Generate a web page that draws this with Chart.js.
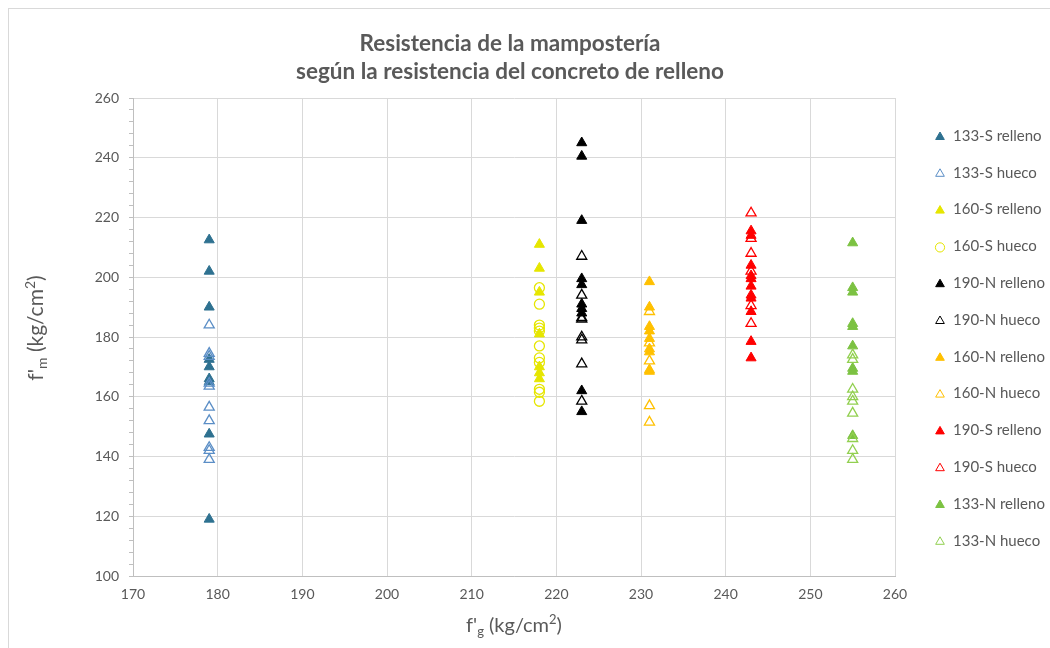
<!DOCTYPE html>
<html>
<head>
<meta charset="utf-8">
<script src="https://cdn.jsdelivr.net/npm/chart.js@4/dist/chart.umd.min.js"></script>
<style>
  html, body { margin: 0; padding: 0; background: #ffffff; }
  canvas { display: block; }
</style>
</head>
<body>
<canvas id="c" width="1050" height="648"></canvas>
<script>
// Series names, in legend order
const seriesNames = [
  '133-S relleno', '133-S hueco', '160-S relleno', '160-S hueco',
  '190-N relleno', '190-N hueco', '160-N relleno', '160-N hueco',
  '190-S relleno', '190-S hueco', '133-N relleno', '133-N hueco'
];

// f'g of each series (kg/cm2)
const fgValues = [179, 179, 218, 218, 223, 223, 231, 231, 243, 243, 255, 255];

// f'm values of each series (kg/cm2)
const fm133SRelleno = [212.5, 202, 190, 172.5, 170, 166, 165, 147.5, 119];
const fm133SHueco   = [184, 174.5, 173.5, 164.5, 163.5, 156.5, 152, 143, 142, 139];
const fm160SRelleno = [211, 203, 195, 181, 170, 168, 166];
const fm160SHueco   = [196.5, 191, 184, 183, 182, 177, 173, 171.5, 162.5, 161.5, 158.5];
const fm190NRelleno = [245, 240.5, 219, 199.5, 197.5, 191, 189.5, 188, 162, 155];
const fm190NHueco   = [207, 194, 186.5, 186, 180, 179, 171, 158.5];
const fm160NRelleno = [198.5, 190, 183.5, 182, 179.5, 176, 175, 169, 168.5];
const fm160NHueco   = [188.5, 178, 172, 157, 151.5];
const fm190SRelleno = [215.5, 214, 204, 200.5, 199.5, 197, 194, 193, 188.5, 178.5, 173];
const fm190SHueco   = [221.5, 213, 208, 202, 190.5, 184.5];
const fm133NRelleno = [211.5, 196.5, 195, 184.5, 183.5, 177, 169.5, 168.5, 147];
const fm133NHueco   = [174, 172.5, 162.5, 160, 158.5, 154.5, 146, 142, 139];

const fmSeries = [
  fm133SRelleno, fm133SHueco, fm160SRelleno, fm160SHueco,
  fm190NRelleno, fm190NHueco, fm160NRelleno, fm160NHueco,
  fm190SRelleno, fm190SHueco, fm133NRelleno, fm133NHueco
];

// Axis ticks
const xTicks = [170, 180, 190, 200, 210, 220, 230, 240, 250, 260];
const yTicks = [100, 120, 140, 160, 180, 200, 220, 240, 260];

// Marker styles
const seriesColors = [
  '#2e7190', '#5b8ec6', '#e6e600', '#e6e600',
  '#000000', '#000000', '#ffc000', '#ffc000',
  '#ff0000', '#ff0000', '#7cc242', '#92d050'
];
const seriesFilled = [true, false, true, false, true, false, true, false, true, false, true, false];
const seriesShapes = ['triangle', 'triangle', 'triangle', 'circle', 'triangle', 'triangle',
                      'triangle', 'triangle', 'triangle', 'triangle', 'triangle', 'triangle'];

const TEXT = '#595959';
const FONT = 'Lato, "Open Sans", sans-serif';

const datasets = seriesNames.map((name, i) => ({
  label: name,
  data: fmSeries[i].map(v => ({ x: fgValues[i], y: v })),
  pointStyle: seriesShapes[i],
  pointRadius: seriesShapes[i] === 'circle' ? 5 : 5.8,
  pointHoverRadius: 6,
  borderWidth: seriesFilled[i] ? 1 : 1.3,
  borderColor: seriesColors[i],
  backgroundColor: seriesFilled[i] ? seriesColors[i] : 'rgba(0,0,0,0)',
  order: -i
}));

// Draws a run of text pieces (with sub/superscripts) centred on x
function drawRich(ctx, parts, x, y) {
  let total = 0;
  parts.forEach(p => {
    ctx.font = p.size + 'px ' + FONT;
    p.w = ctx.measureText(p.t).width;
    total += p.w;
  });
  let cx = x - total / 2;
  ctx.textAlign = 'left';
  ctx.textBaseline = 'alphabetic';
  parts.forEach(p => {
    ctx.font = p.size + 'px ' + FONT;
    ctx.fillText(p.t, cx, y + (p.dy || 0));
    cx += p.w;
  });
}

const decorations = {
  id: 'decorations',
  beforeDraw(chart) {
    const ctx = chart.ctx;
    ctx.save();
    ctx.fillStyle = '#ffffff';
    ctx.fillRect(0, 0, chart.width, chart.height);
    ctx.strokeStyle = '#d9d9d9';
    ctx.lineWidth = 1;
    ctx.strokeRect(8.5, 8.5, 1100, 700);
    ctx.restore();
  },
  afterDraw(chart) {
    const ctx = chart.ctx;
    const area = chart.chartArea;
    ctx.save();
    ctx.fillStyle = TEXT;

    // Title
    ctx.font = 'bold 22.5px ' + FONT;
    ctx.textAlign = 'center';
    ctx.textBaseline = 'middle';
    ctx.fillText('Resistencia de la mampostería', 510, 44);
    ctx.fillText('según la resistencia del concreto de relleno', 510, 72);

    // X axis title
    drawRich(ctx, [
      { t: "f'", size: 20 },
      { t: 'g', size: 13, dy: 4 },
      { t: ' (kg/cm', size: 20 },
      { t: '2', size: 13, dy: -8 },
      { t: ')', size: 20 }
    ], (area.left + area.right) / 2, 632);

    // Y axis title
    ctx.save();
    ctx.translate(43, 328);
    ctx.rotate(-Math.PI / 2);
    drawRich(ctx, [
      { t: "f'", size: 21 },
      { t: 'm', size: 14, dy: 4 },
      { t: ' (kg/cm', size: 21 },
      { t: '2', size: 14, dy: -8 },
      { t: ')', size: 21 }
    ], 0, 0);
    ctx.restore();

    // Legend
    const lx = 940, ly0 = 136, step = 36.8;
    chart.data.datasets.forEach((ds, i) => {
      const y = ly0 + i * step;
      ctx.fillStyle = ds.backgroundColor;
      ctx.strokeStyle = ds.borderColor;
      Chart.helpers.drawPoint(ctx, {
        pointStyle: ds.pointStyle,
        radius: ds.pointStyle === 'circle' ? 4.6 : 5,
        rotation: 0,
        borderWidth: ds.borderWidth
      }, lx, y + 1);
      ctx.fillStyle = TEXT;
      ctx.font = '15px ' + FONT;
      ctx.textAlign = 'left';
      ctx.textBaseline = 'middle';
      ctx.fillText(ds.label, lx + 13, y);
    });
    ctx.restore();
  }
};

new Chart(document.getElementById('c'), {
  type: 'scatter',
  data: { datasets },
  options: {
    responsive: false,
    animation: false,
    devicePixelRatio: 1,
    layout: { padding: { top: 98, right: 155, bottom: 0, left: 0 } },
    plugins: {
      legend: { display: false },
      title: { display: false },
      tooltip: { enabled: false }
    },
    scales: {
      x: {
        type: 'linear',
        min: xTicks[0],
        max: xTicks[xTicks.length - 1],
        afterFit(scale) { scale.height = 72; },
        afterBuildTicks(scale) { scale.ticks = xTicks.map(v => ({ value: v })); },
        ticks: {
          color: TEXT,
          font: { family: FONT, size: 14 },
          padding: 10,
          maxRotation: 0,
          autoSkip: false
        },
        grid: { color: '#d9d9d9', drawTicks: false, lineWidth: 1 },
        border: { color: '#bfbfbf', width: 1 }
      },
      y: {
        type: 'linear',
        min: yTicks[0],
        max: yTicks[yTicks.length - 1],
        afterFit(scale) { scale.width = 133; },
        ticks: {
          stepSize: 4,
          autoSkip: false,
          color: TEXT,
          font: { family: FONT, size: 14 },
          padding: 10,
          callback: v => (yTicks.includes(v) ? String(v) : '')
        },
        grid: {
          color: c => (yTicks.includes(c.tick.value) ? '#d9d9d9' : 'rgba(0,0,0,0)'),
          tickColor: '#bfbfbf',
          tickLength: 4,
          lineWidth: 1
        },
        border: { color: '#bfbfbf', width: 1 }
      }
    }
  },
  plugins: [decorations]
});
</script>
</body>
</html>
